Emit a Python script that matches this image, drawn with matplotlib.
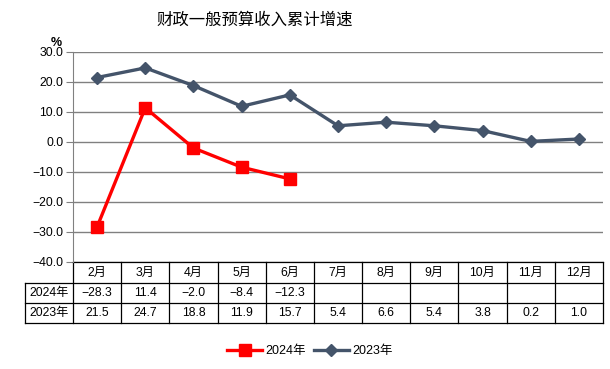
import matplotlib.pyplot as plt
import matplotlib.transforms as mtransforms

plt.rcParams['font.family'] = ['Liberation Sans', 'Noto Sans CJK SC']
plt.rcParams['axes.unicode_minus'] = True

months = ['2月', '3月', '4月', '5月', '6月', '7月', '8月', '9月', '10月', '11月', '12月']
y2024 = [-28.3, 11.4, -2.0, -8.4, -12.3]
y2023 = [21.5, 24.7, 18.8, 11.9, 15.7, 5.4, 6.6, 5.4, 3.8, 0.2, 1.0]
yticks = [-40, -30, -20, -10, 0, 10, 20, 30]

W, H = 610, 369
fig = plt.figure(figsize=(W / 100, H / 100), dpi=100)
ax = fig.add_axes([73 / W, 1 - 262 / H, 530 / W, 210 / H])

x = list(range(len(months)))
red = '#FF0000'
blue = '#44546A'
ax.plot(x[:len(y2024)], y2024, color=red, lw=2.4, marker='s', ms=9, label='2024年', zorder=3)
ax.plot(x, y2023, color=blue, lw=2.4, marker='D', ms=6.5, label='2023年', zorder=3)

ax.set_xlim(-0.5, len(months) - 0.5)
ax.set_ylim(-40, 30)
ax.set_yticks(yticks)
ax.set_yticklabels([f'{v:.1f}'.replace('-', '\u2212') for v in yticks], fontsize=8.8)
ax.set_xticks([])
ax.grid(axis='y', color='#808080', lw=1)
for s in ['top', 'right', 'bottom']:
    ax.spines[s].set_visible(False)
ax.spines['left'].set_color('#808080')
ax.tick_params(axis='y', length=5, color='#808080', pad=2)
ax.set_axisbelow(True)

fig.text(255 / W, 1 - 20 / H, '财政一般预算收入累计增速', ha='center', va='center', fontsize=11.8)
fig.text(56 / W, 1 - 43 / H, '%', ha='center', va='center', fontsize=9, weight='bold')

# data table under the axes
trans = mtransforms.blended_transform_factory(ax.transData, ax.transAxes)
px = 1 / 210.0
rows_y = [0, -21 * px, -41 * px, -61 * px]
kw = dict(color='black', lw=0.9, transform=trans, clip_on=False)
ax.plot([-0.5, len(months) - 0.5], [rows_y[0], rows_y[0]], **kw)
for ry in rows_y[1:]:
    ax.plot([-1.5, len(months) - 0.5], [ry, ry], **kw)
ax.plot([-1.5, -1.5], [rows_y[1], rows_y[3]], **kw)
for i in range(len(months) + 1):
    ax.plot([i - 0.5, i - 0.5], [rows_y[0], rows_y[3]], **kw)

def cell(xc, yc, s):
    ax.text(xc, yc, s, ha='center', va='center', fontsize=8.8, transform=trans, clip_on=False)

for i, m in enumerate(months):
    cell(i, (rows_y[0] + rows_y[1]) / 2, m)
cell(-1, (rows_y[1] + rows_y[2]) / 2, '2024年')
cell(-1, (rows_y[2] + rows_y[3]) / 2, '2023年')
for i, v in enumerate(y2024):
    cell(i, (rows_y[1] + rows_y[2]) / 2, f'{v:.1f}'.replace('-', '\u2212'))
for i, v in enumerate(y2023):
    cell(i, (rows_y[2] + rows_y[3]) / 2, f'{v:.1f}'.replace('-', '\u2212'))

fig.legend(loc='center', bbox_to_anchor=(310 / W, 1 - 351 / H), ncol=2, frameon=False,
           fontsize=9, handlelength=2.8, columnspacing=0.6, handletextpad=0.3)

plt.savefig('out.png', dpi=100)
